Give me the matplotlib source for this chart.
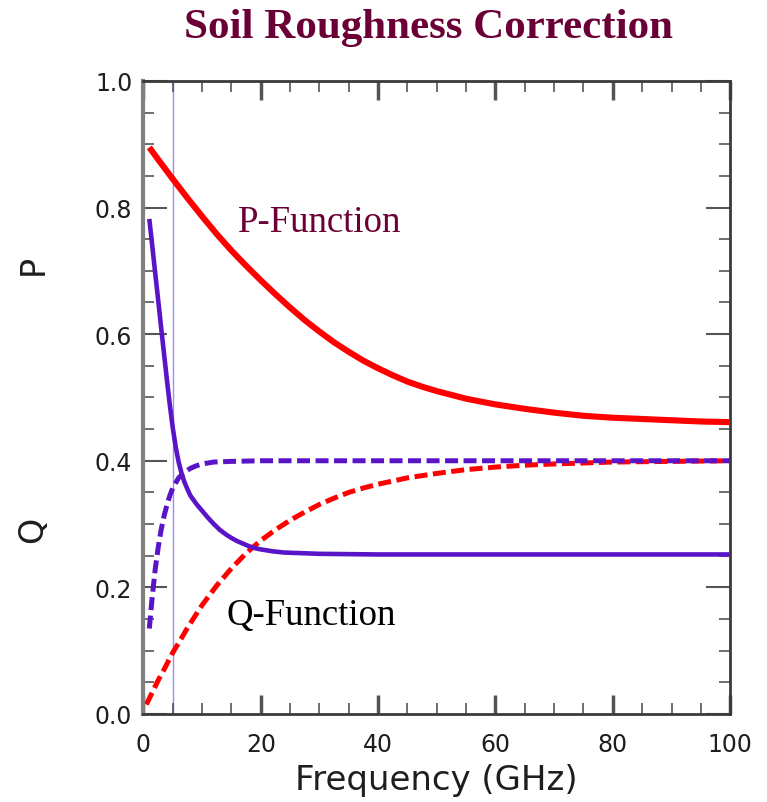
import matplotlib
matplotlib.use("Agg")
import matplotlib.pyplot as plt
from matplotlib.ticker import MultipleLocator

# Frequency grid (GHz) and roughness-correction curves
p_freq = [1, 2.5, 5, 7.5, 10, 12.5, 15, 17.5, 20, 22.5, 25, 27.5, 30, 32.5, 35, 37.5, 40,
          42.5, 45, 47.5, 50, 55, 60, 65, 70, 75, 80, 85, 90, 95, 100]
p_solid = [0.895, 0.876, 0.845, 0.815, 0.786, 0.758, 0.732, 0.708, 0.685, 0.663, 0.642,
           0.622, 0.604, 0.587, 0.572, 0.558, 0.546, 0.535, 0.525, 0.517, 0.510, 0.498,
           0.489, 0.482, 0.476, 0.471, 0.468, 0.466, 0.464, 0.462, 0.461]

q_freq = [1, 1.5, 2, 2.5, 3, 3.5, 4, 4.5, 5, 5.5, 6, 6.5, 7, 7.5, 8, 9, 10, 11, 12, 13,
          14, 15, 16, 17, 18, 19, 20, 22, 24, 27, 30, 40, 100]
q_solid = [0.782, 0.740, 0.697, 0.655, 0.612, 0.570, 0.528, 0.488, 0.452, 0.422, 0.398,
           0.380, 0.366, 0.355, 0.345, 0.332, 0.321, 0.310, 0.300, 0.291, 0.284, 0.278,
           0.273, 0.269, 0.265, 0.262, 0.260, 0.257, 0.255, 0.254, 0.253, 0.252, 0.252]

pd_freq = [0.5, 1.5, 2.5, 3.5, 5, 6.5, 7.5, 10, 12.5, 15, 17.5, 20, 22.5, 25, 27.5, 30,
           32.5, 35, 37.5, 40, 45, 50, 55, 60, 65, 70, 80, 90, 100]
p_dashed = [0.015, 0.034, 0.053, 0.070, 0.097, 0.120, 0.136, 0.172, 0.203, 0.230, 0.254,
            0.274, 0.291, 0.306, 0.319, 0.331, 0.341, 0.350, 0.357, 0.363, 0.373, 0.380,
            0.386, 0.390, 0.393, 0.395, 0.398, 0.399, 0.400]

qd_freq = [1, 1.5, 2, 2.5, 3, 3.5, 4, 4.5, 5, 6, 7, 8, 9, 10, 12, 15, 20, 40, 60, 80, 100]
q_dashed = [0.135, 0.185, 0.228, 0.262, 0.290, 0.312, 0.330, 0.345, 0.357, 0.373, 0.382,
            0.388, 0.392, 0.395, 0.398, 0.399, 0.400, 0.400, 0.400, 0.400, 0.400]

marker_freq = 5.0

title_text = "Soil Roughness Correction"
x_label = "Frequency (GHz)"

RED = "#ff0000"
PURPLE = "#5a14c8"
MAROON = "#6a0035"

fig = plt.figure(figsize=(7.67, 8.03), dpi=100)
ax = fig.add_axes([0.187, 0.1096, 0.765, 0.7884])

ax.axvline(marker_freq, color="#a08cf0", lw=1.0, zorder=1)

ax.plot(pd_freq, p_dashed, color=RED, lw=3.6, dashes=(2.6, 1.1), zorder=2)
ax.plot(qd_freq, q_dashed, color=PURPLE, lw=3.6, dashes=(2.6, 1.1), zorder=3)
ax.plot(p_freq, p_solid, color=RED, lw=4.4, solid_capstyle="butt",
        solid_joinstyle="round", zorder=4)
ax.plot(q_freq, q_solid, color=PURPLE, lw=3.3, solid_capstyle="butt",
        solid_joinstyle="round", zorder=4)

ax.set_xlim(0, 100)
ax.set_ylim(0, 1.0)
ax.xaxis.set_major_locator(MultipleLocator(20))
ax.xaxis.set_minor_locator(MultipleLocator(5))
ax.yaxis.set_major_locator(MultipleLocator(0.2))
ax.yaxis.set_minor_locator(MultipleLocator(0.05))
ax.yaxis.set_major_formatter(plt.FuncFormatter(lambda v, _: f"{v:.1f}"))

for side in ["top", "bottom", "right"]:
    ax.spines[side].set_color("#3a3a3a")
    ax.spines[side].set_linewidth(2.0)
ax.spines["left"].set_color("#808080")
ax.spines["left"].set_linewidth(3.0)

ax.tick_params(axis="both", which="both", direction="in", top=True, right=True,
               colors="#555555", labelcolor="#1e1e1e", labelsize=17)
ax.tick_params(axis="x", which="major", length=14, width=2.5, pad=13)
ax.tick_params(axis="y", which="major", length=17, width=1.5, pad=8)
ax.tick_params(axis="both", which="minor", length=8, width=1.2)

ax.set_xlabel(x_label, fontsize=24.5, color="#1e1e1e", labelpad=5)

fig.text(0.043, 1 - 265 / 803, "P", rotation=90, fontsize=24, color="#1e1e1e",
         ha="center", va="center")
fig.text(0.043, 1 - 530 / 803, "Q", rotation=90, fontsize=24, color="#1e1e1e",
         ha="center", va="center")

ax.text(16.2, 0.7635, "P-Function", family="Liberation Serif", fontsize=26.5,
        color=MAROON, ha="left", va="baseline")
ax.text(14.1, 0.142, "Q-Function", family="Liberation Serif", fontsize=26.5,
        color="black", ha="left", va="baseline")

fig.text(428.5 / 767, 1 - 38 / 803, title_text, family="Liberation Serif",
         fontweight="bold", fontsize=31, color=MAROON, ha="center", va="baseline")

fig.savefig("out.png", dpi=100)
